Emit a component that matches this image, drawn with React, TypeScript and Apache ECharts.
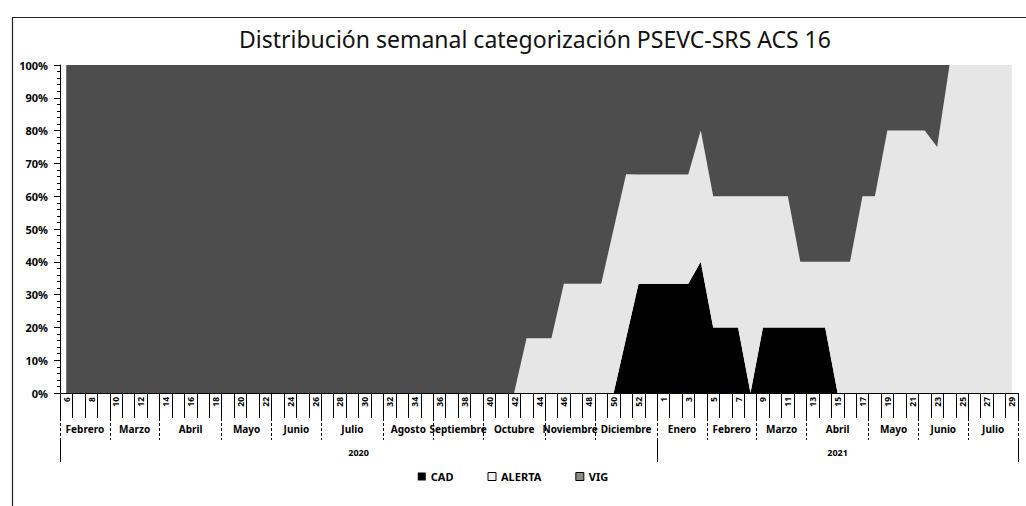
import React, { useEffect, useRef } from "react";
import * as echarts from "echarts";

// ISO weeks: 2020 weeks 6..53, 2021 weeks 1..29
const weekLabels = [
  "6", "7", "8", "9", "10", "11", "12", "13", "14", "15", "16", "17", "18", "19", "20", "21",
  "22", "23", "24", "25", "26", "27", "28", "29", "30", "31", "32", "33", "34", "35", "36", "37",
  "38", "39", "40", "41", "42", "43", "44", "45", "46", "47", "48", "49", "50", "51", "52", "53",
  "1", "2", "3", "4", "5", "6", "7", "8", "9", "10", "11", "12", "13", "14", "15", "16",
  "17", "18", "19", "20", "21", "22", "23", "24", "25", "26", "27", "28", "29",
];

const months = [
  "Febrero", "Marzo", "Abril", "Mayo", "Junio", "Julio", "Agosto", "Septiembre", "Octubre",
  "Noviembre", "Diciembre", "Enero", "Febrero", "Marzo", "Abril", "Mayo", "Junio", "Julio",
];
const monthWeeks = [4, 4, 5, 4, 4, 5, 4, 4, 5, 4, 5, 4, 4, 4, 5, 4, 4, 4];

const years = ["2020", "2021"];
const yearWeeks = [48, 29];

// percentages per week
const cad = [
  0, 0, 0, 0, 0, 0, 0, 0, 0, 0, 0, 0, 0, 0, 0, 0,
  0, 0, 0, 0, 0, 0, 0, 0, 0, 0, 0, 0, 0, 0, 0, 0,
  0, 0, 0, 0, 0, 0, 0, 0, 0, 0, 0, 0, 0, 16.7, 33.3, 33.3,
  33.3, 33.3, 33.3, 40, 20, 20, 20, 0, 20, 20, 20, 20, 20, 20, 0, 0,
  0, 0, 0, 0, 0, 0, 0, 0, 0, 0, 0, 0, 0,
];
const alerta = [
  0, 0, 0, 0, 0, 0, 0, 0, 0, 0, 0, 0, 0, 0, 0, 0,
  0, 0, 0, 0, 0, 0, 0, 0, 0, 0, 0, 0, 0, 0, 0, 0,
  0, 0, 0, 0, 0, 16.7, 16.7, 16.7, 33.3, 33.3, 33.3, 33.3, 50, 50, 33.3, 33.3,
  33.3, 33.3, 33.3, 40, 40, 40, 40, 60, 40, 40, 40, 20, 20, 20, 40, 40,
  60, 60, 80, 80, 80, 80, 75, 100, 100, 100, 100, 100, 100,
];
const vig = [
  100, 100, 100, 100, 100, 100, 100, 100, 100, 100, 100, 100, 100, 100, 100, 100,
  100, 100, 100, 100, 100, 100, 100, 100, 100, 100, 100, 100, 100, 100, 100, 100,
  100, 100, 100, 100, 100, 83.3, 83.3, 83.3, 66.7, 66.7, 66.7, 66.7, 50, 33.3, 33.4, 33.4,
  33.4, 33.4, 33.4, 20, 40, 40, 40, 40, 40, 40, 40, 60, 60, 60, 60, 60,
  40, 40, 20, 20, 20, 20, 25, 0, 0, 0, 0, 0, 0,
];

const yTicks = [0, 10, 20, 30, 40, 50, 60, 70, 80, 90, 100];

const FONT = "'Noto Sans', 'Open Sans', sans-serif";

function groups(names: string[], sizes: number[]) {
  const bounds: number[] = [0];
  const centers: number[] = [];
  const labelAt: Record<string, string> = {};
  let acc = 0;
  sizes.forEach((s, i) => {
    const c = acc + s / 2;
    centers.push(c);
    labelAt[String(c)] = names[i];
    acc += s;
    bounds.push(acc);
  });
  return { bounds, centers, labelAt };
}

export default function App() {
  const ref = useRef<HTMLDivElement>(null);

  useEffect(() => {
    if (!ref.current) return;
    const chart = echarts.init(ref.current, undefined, { renderer: "svg" });
    const total = weekLabels.length;
    const m = groups(months, monthWeeks);
    const y = groups(years, yearWeeks);

    const colCAD = "#000000";
    const colALERTA = "#e6e6e6";
    const colVIG = "#4d4d4d";

    chart.setOption({
      animation: false,
      backgroundColor: "#ffffff",
      title: {
        text: "Distribución semanal categorización PSEVC-SRS ACS 16",
        left: 234,
        top: 22,
        textStyle: { fontFamily: FONT, fontSize: 23, fontWeight: "normal", color: "#111" },
      },
      graphic: [
        {
          type: "rect",
          shape: { x: 12.5, y: 17.5, width: 1040, height: 520 },
          style: { fill: "none", stroke: "#222", lineWidth: 1.2 },
          silent: true,
        },
      ],
      legend: {
        top: 466,
        left: "center",
        icon: "rect",
        itemWidth: 8,
        itemHeight: 8,
        itemGap: 34,
        textStyle: { fontFamily: FONT, fontSize: 11, color: "#000", fontWeight: "bold" },
        data: [
          { name: "CAD", itemStyle: { color: colCAD } },
          { name: "ALERTA", itemStyle: { color: "#f2f2f2", borderColor: "#000", borderWidth: 1 } },
          { name: "VIG", itemStyle: { color: "#8a8a8a", borderColor: "#000", borderWidth: 1 } },
        ],
      },
      grid: { left: 60, right: 8, top: 65, bottom: 113, containLabel: false },
      xAxis: [
        {
          type: "category",
          data: weekLabels,
          boundaryGap: true,
          position: "bottom",
          axisLine: { show: true, lineStyle: { color: "#000", width: 1 } },
          axisTick: { show: true, interval: 0, length: 25, lineStyle: { color: "#000", width: 1 } },
          axisLabel: {
            interval: 1,
            rotate: 90,
            margin: 4,
            fontFamily: FONT,
            fontSize: 8.5,
            fontWeight: "bold",
            color: "#000",
          },
          splitLine: { show: false },
        },
        {
          type: "value",
          min: 0,
          max: total,
          position: "bottom",
          offset: 25,
          axisLine: { show: false },
          axisTick: {
            show: true,
            customValues: m.bounds,
            length: 22,
            lineStyle: { color: "#000", width: 1, type: [3, 2] },
          },
          axisLabel: {
            customValues: m.centers,
            margin: 6,
            fontFamily: FONT,
            fontSize: 10,
            fontWeight: "bold",
            color: "#000",
            formatter: (v: number) => m.labelAt[String(v)] || "",
          },
          splitLine: { show: false },
        },
        {
          type: "value",
          min: 0,
          max: total,
          position: "bottom",
          offset: 47,
          axisLine: { show: false },
          axisTick: {
            show: true,
            customValues: y.bounds,
            length: 22,
            lineStyle: { color: "#000", width: 1 },
          },
          axisLabel: {
            customValues: y.centers,
            margin: 8,
            fontFamily: FONT,
            fontSize: 9,
            fontWeight: "bold",
            color: "#000",
            formatter: (v: number) => y.labelAt[String(v)] || "",
          },
          splitLine: { show: false },
        },
      ],
      yAxis: {
        type: "value",
        min: yTicks[0],
        max: yTicks[yTicks.length - 1],
        interval: 10,
        axisLine: { show: true, lineStyle: { color: "#000", width: 1 } },
        axisTick: { show: true, length: 6, lineStyle: { color: "#000" } },
        minorTick: { show: true, splitNumber: 5, length: 3, lineStyle: { color: "#000" } },
        splitLine: { show: false },
        axisLabel: {
          formatter: "{value}%",
          margin: 12,
          fontFamily: FONT,
          fontSize: 11,
          fontWeight: "bold",
          color: "#000",
        },
      },
      series: [
        {
          name: "CAD",
          type: "line",
          stack: "total",
          data: cad,
          symbol: "none",
          lineStyle: { width: 0 },
          itemStyle: { color: colCAD },
          areaStyle: { color: colCAD, opacity: 1 },
        },
        {
          name: "ALERTA",
          type: "line",
          stack: "total",
          data: alerta,
          symbol: "none",
          lineStyle: { width: 0 },
          itemStyle: { color: colALERTA },
          areaStyle: { color: colALERTA, opacity: 1 },
        },
        {
          name: "VIG",
          type: "line",
          stack: "total",
          data: vig,
          symbol: "none",
          lineStyle: { width: 0 },
          itemStyle: { color: colVIG },
          areaStyle: { color: colVIG, opacity: 1 },
        },
      ],
    });

    return () => chart.dispose();
  }, []);

  return (
    <div
      ref={ref}
      style={{ position: "fixed", left: 0, top: 0, width: 1026, height: 506 }}
    />
  );
}
